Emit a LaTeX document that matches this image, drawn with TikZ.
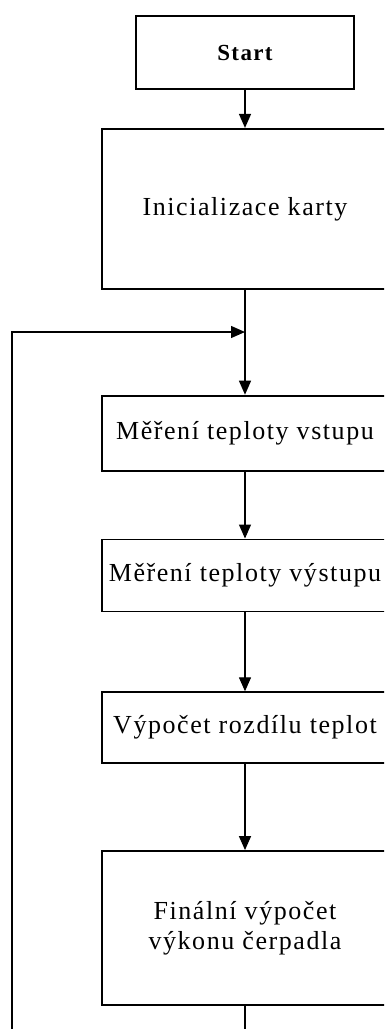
\documentclass[tikz,border=0pt]{standalone}
\usepackage{fontspec}
\setmainfont[LetterSpace=6]{Liberation Serif}
\usetikzlibrary{arrows.meta, positioning}

\begin{document}
\begin{tikzpicture}[x=1pt,y=1pt,>={Triangle[length=14pt,width=12pt]},line width=1.3pt,
    krok/.style={draw,line width=1.8pt,rectangle,minimum width=286pt,align=center,font=\fontsize{26}{30}\selectfont,inner sep=0pt}]
    \clip (0,0) rectangle (384,-1029);
    \useasboundingbox (0,0) rectangle (384,-1029);
    % bloky
    \node[krok, minimum width=218pt, minimum height=73pt, font=\fontsize{23}{28}\selectfont\bfseries] (start) at (245,-52.5) {Start};
    \node[krok, minimum height=160pt] (init) [below=38pt of start] {Inicializace karty};
    \node[krok, minimum height=75pt] (vstup) [below=105pt of init] {Měření teploty vstupu};
    \node[krok, minimum height=72pt] (vystup) [below=67pt of vstup] {Měření teploty výstupu};
    \node[krok, minimum height=71pt] (rozdil) [below=79pt of vystup] {Výpočet rozdílu teplot};
    \node[krok, minimum height=154pt] (vykon) [below=86pt of rozdil] {Finální výpočet\\výkonu čerpadla};

    \coordinate (spoj) at (245,-332);
    \coordinate (dole) at (245,-1045);
    \coordinate (vlevo) at (12,-1045);
    \coordinate (nahore) at (12,-332);

    % spoje
    \draw[->] (start) -- (init);
    \draw[->] (init) -- (spoj) -- (vstup);
    \draw[->] (vstup) -- (vystup);
    \draw[->] (vystup) -- (rozdil);
    \draw[->] (rozdil) -- (vykon);
    \draw[->] (vykon) -- (dole) -- (vlevo) -- (nahore) -- (spoj);
\end{tikzpicture}
\end{document}
